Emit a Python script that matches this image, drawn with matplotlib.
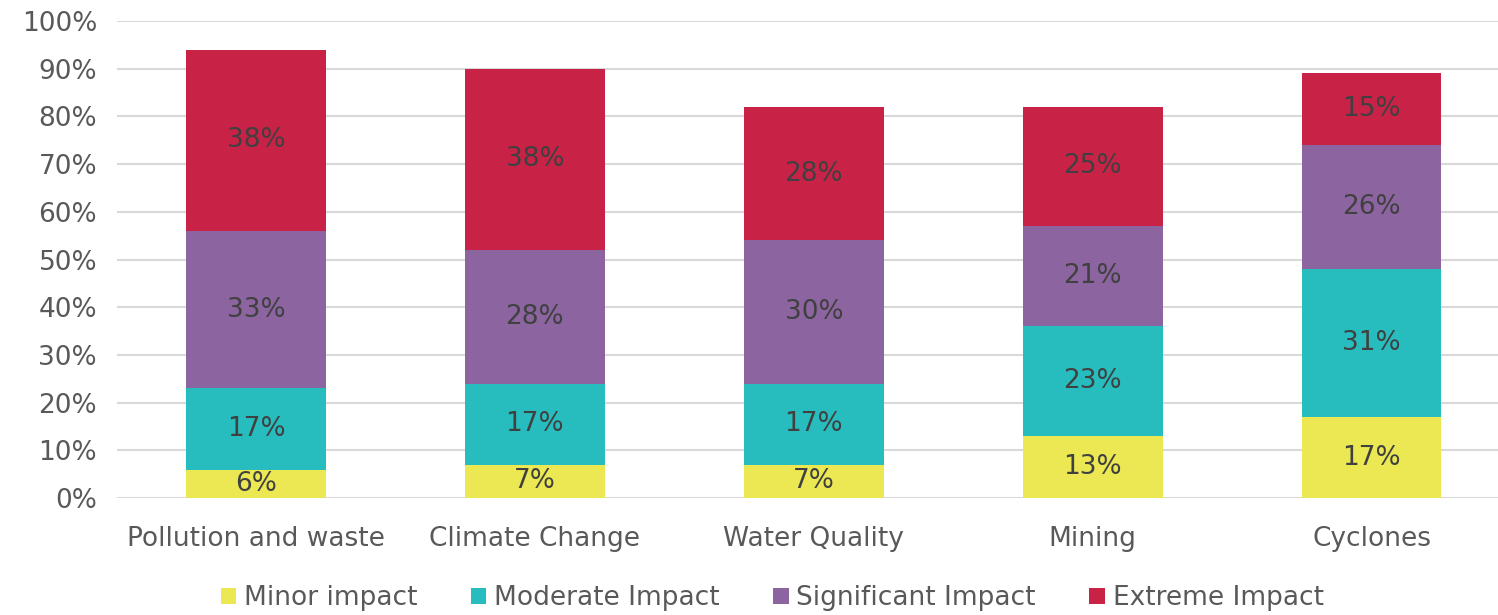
import numpy as np
import matplotlib
matplotlib.use("Agg")
import matplotlib.pyplot as plt
from matplotlib.ticker import PercentFormatter

categories = ["Pollution and waste", "Climate Change", "Water Quality", "Mining", "Cyclones"]
series = ["Minor impact", "Moderate Impact", "Significant Impact", "Extreme Impact"]
minor = [6, 7, 7, 13, 17]
moderate = [17, 17, 17, 23, 31]
significant = [33, 28, 30, 21, 26]
extreme = [38, 38, 28, 25, 15]
colors = ["#EBE853", "#27BDBE", "#8B64A0", "#C82247"]

plt.rcParams.update({"font.family": "DejaVu Sans"})
FS = 19

fig = plt.figure(figsize=(14.98, 6.15), dpi=100, facecolor="white")
ax = fig.add_axes([0.0778, 0.19, 0.931, 0.776])

x = np.arange(len(categories))
bottom = np.zeros(len(categories))
for name, vals, c in zip(series, [minor, moderate, significant, extreme], colors):
    vals = np.array(vals, dtype=float)
    bars = ax.bar(x, vals, bottom=bottom, width=0.5, color=c, label=name, zorder=3)
    for b, v, y0 in zip(bars, vals, bottom):
        ax.text(b.get_x() + b.get_width() / 2, y0 + v / 2, f"{v:.0f}%",
                ha="center", va="center", fontsize=FS, color="#404040", zorder=4)
    bottom += vals

ax.set_ylim(0, 100)
ax.set_xlim(-0.5, len(categories) - 0.5)
ax.set_yticks(np.arange(0, 101, 10))
ax.yaxis.set_major_formatter(PercentFormatter(decimals=0))
ax.grid(axis="y", color="#D9D9D9", linewidth=1.5, zorder=0)
ax.set_xticks(x)
ax.set_xticklabels(categories)
ax.tick_params(axis="both", length=0, labelsize=FS, labelcolor="#595959")
ax.tick_params(axis="y", pad=14)
ax.tick_params(axis="x", pad=20)
for s in ax.spines.values():
    s.set_visible(False)

ax.legend(loc="center", bbox_to_anchor=(0.47, -0.21), ncol=4, frameon=False,
          fontsize=FS, labelcolor="#595959", handlelength=0.6, handleheight=0.6,
          handletextpad=0.3, columnspacing=2.0, borderpad=0)

fig.savefig("out.png", dpi=100, facecolor="white")
